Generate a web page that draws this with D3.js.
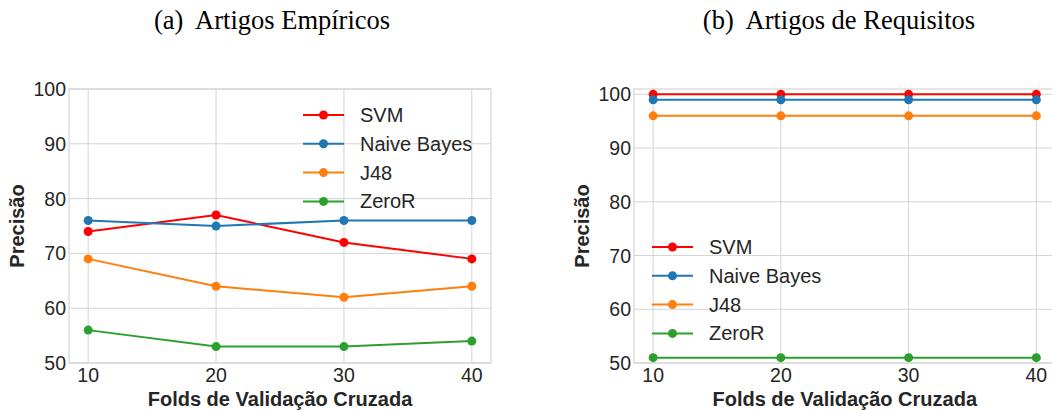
<!DOCTYPE html>
<html>
<head>
<meta charset="utf-8">
<script src="https://cdn.jsdelivr.net/npm/d3@7"></script>
<style>
    body { margin: 0; background: #fff; }
    svg { display: block; }
</style>
</head>
<body>
<svg id="chart" width="1052" height="410"></svg>
<script>
// Data
const folds = [10, 20, 30, 40];
const seriesNames = ['SVM', 'Naive Bayes', 'J48', 'ZeroR'];
const seriesColors = ['#ff0000', '#1f77b4', '#ff7f0e', '#2ca02c'];
const yTicks = [50, 60, 70, 80, 90, 100];

const empiricosValues = [
    [74, 77, 72, 69],
    [76, 75, 76, 76],
    [69, 64, 62, 64],
    [56, 53, 53, 54]
];
const requisitosValues = [
    [100, 100, 100, 100],
    [99, 99, 99, 99],
    [96, 96, 96, 96],
    [51, 51, 51, 51]
];

const svg = d3.select('#chart');
const TEXT = '#262626';
const GRID = '#d4d4d4';
const SANS = 'Liberation Sans, Arial, sans-serif';

/**
 * Draws one subplot: frame, grid, ticks, labels, lines and legend.
 */
function renderPanel(opts) {
    const {left, right, top, bottom, yDomain, values, title, titleX, legendX, legendY, yLabelX} = opts;

    const x = d3.scaleLinear().domain([8.5, 41.5]).range([left, right]);
    const y = d3.scaleLinear().domain(yDomain).range([bottom, top]);

    const g = svg.append('g');

    // clip so the right panel can run off the edge like the reference
    const clipId = 'clip' + Math.round(left);
    g.append('clipPath').attr('id', clipId)
        .append('rect')
        .attr('x', left).attr('y', top - 6)
        .attr('width', right - left).attr('height', bottom - top + 12);

    // grid
    g.append('g').selectAll('line')
        .data(yTicks)
        .join('line')
        .attr('x1', left).attr('x2', right)
        .attr('y1', d => y(d)).attr('y2', d => y(d))
        .attr('stroke', GRID).attr('stroke-width', 1);

    g.append('g').selectAll('line')
        .data(folds)
        .join('line')
        .attr('x1', d => x(d)).attr('x2', d => x(d))
        .attr('y1', top).attr('y2', bottom)
        .attr('stroke', GRID).attr('stroke-width', 1);

    // frame
    g.append('rect')
        .attr('x', left).attr('y', top)
        .attr('width', right - left).attr('height', bottom - top)
        .attr('fill', 'none')
        .attr('stroke', GRID).attr('stroke-width', 1.2);

    // tick labels
    g.append('g').selectAll('text')
        .data(yTicks)
        .join('text')
        .attr('x', left - 3)
        .attr('y', d => y(d))
        .attr('text-anchor', 'end')
        .attr('dominant-baseline', 'central')
        .attr('font-family', SANS)
        .attr('font-size', '19.5px')
        .attr('fill', TEXT)
        .text(d => d);

    g.append('g').selectAll('text')
        .data(folds)
        .join('text')
        .attr('x', d => x(d))
        .attr('y', bottom + 19)
        .attr('text-anchor', 'middle')
        .attr('font-family', SANS)
        .attr('font-size', '19.5px')
        .attr('fill', TEXT)
        .text(d => d);

    // axis labels
    g.append('text')
        .attr('x', (x(10) + x(40)) / 2)
        .attr('y', bottom + 43)
        .attr('text-anchor', 'middle')
        .attr('font-family', SANS)
        .attr('font-size', '20px')
        .attr('font-weight', 'bold')
        .attr('fill', TEXT)
        .text('Folds de Validação Cruzada');

    g.append('text')
        .attr('transform', `translate(${yLabelX}, ${(top + bottom) / 2}) rotate(-90)`)
        .attr('text-anchor', 'middle')
        .attr('dominant-baseline', 'central')
        .attr('font-family', SANS)
        .attr('font-size', '20px')
        .attr('font-weight', 'bold')
        .attr('fill', TEXT)
        .text('Precisão');

    // title
    svg.append('text')
        .attr('x', titleX)
        .attr('y', 29)
        .attr('text-anchor', 'middle')
        .attr('font-family', 'Liberation Serif, Times New Roman, serif')
        .attr('font-size', '26.5px')
        .attr('fill', '#000')
        .attr('xml:space', 'preserve')
        .style('white-space', 'pre')
        .text(title);

    // series
    const line = d3.line().x((d, i) => x(folds[i])).y(d => y(d));
    const plot = g.append('g').attr('clip-path', `url(#${clipId})`);

    values.forEach((vals, s) => {
        plot.append('path')
            .datum(vals)
            .attr('d', line)
            .attr('fill', 'none')
            .attr('stroke', seriesColors[s])
            .attr('stroke-width', 2);

        plot.selectAll(null)
            .data(vals)
            .join('circle')
            .attr('cx', (d, i) => x(folds[i]))
            .attr('cy', d => y(d))
            .attr('r', 4.5)
            .attr('fill', seriesColors[s]);
    });

    // legend
    const legend = g.append('g');
    seriesNames.forEach((name, s) => {
        const ly = legendY + s * 28.8;
        legend.append('line')
            .attr('x1', legendX).attr('x2', legendX + 41)
            .attr('y1', ly).attr('y2', ly)
            .attr('stroke', seriesColors[s]).attr('stroke-width', 2);
        legend.append('circle')
            .attr('cx', legendX + 20.5).attr('cy', ly)
            .attr('r', 4.5)
            .attr('fill', seriesColors[s]);
        legend.append('text')
            .attr('x', legendX + 57)
            .attr('y', ly)
            .attr('dominant-baseline', 'central')
            .attr('font-family', SANS)
            .attr('font-size', '20px')
            .attr('fill', TEXT)
            .text(name);
    });
}

renderPanel({
    left: 69, right: 491, top: 89, bottom: 363,
    yDomain: [50, 100],
    values: empiricosValues,
    title: '(a)  Artigos Empíricos',
    titleX: 272,
    legendX: 303, legendY: 115,
    yLabelX: 17
});

renderPanel({
    left: 634, right: 1055.5, top: 89, bottom: 363,
    yDomain: [50, 101],
    values: requisitosValues,
    title: '(b)  Artigos de Requisitos',
    titleX: 839,
    legendX: 652, legendY: 247,
    yLabelX: 582
});
</script>
</body>
</html>
